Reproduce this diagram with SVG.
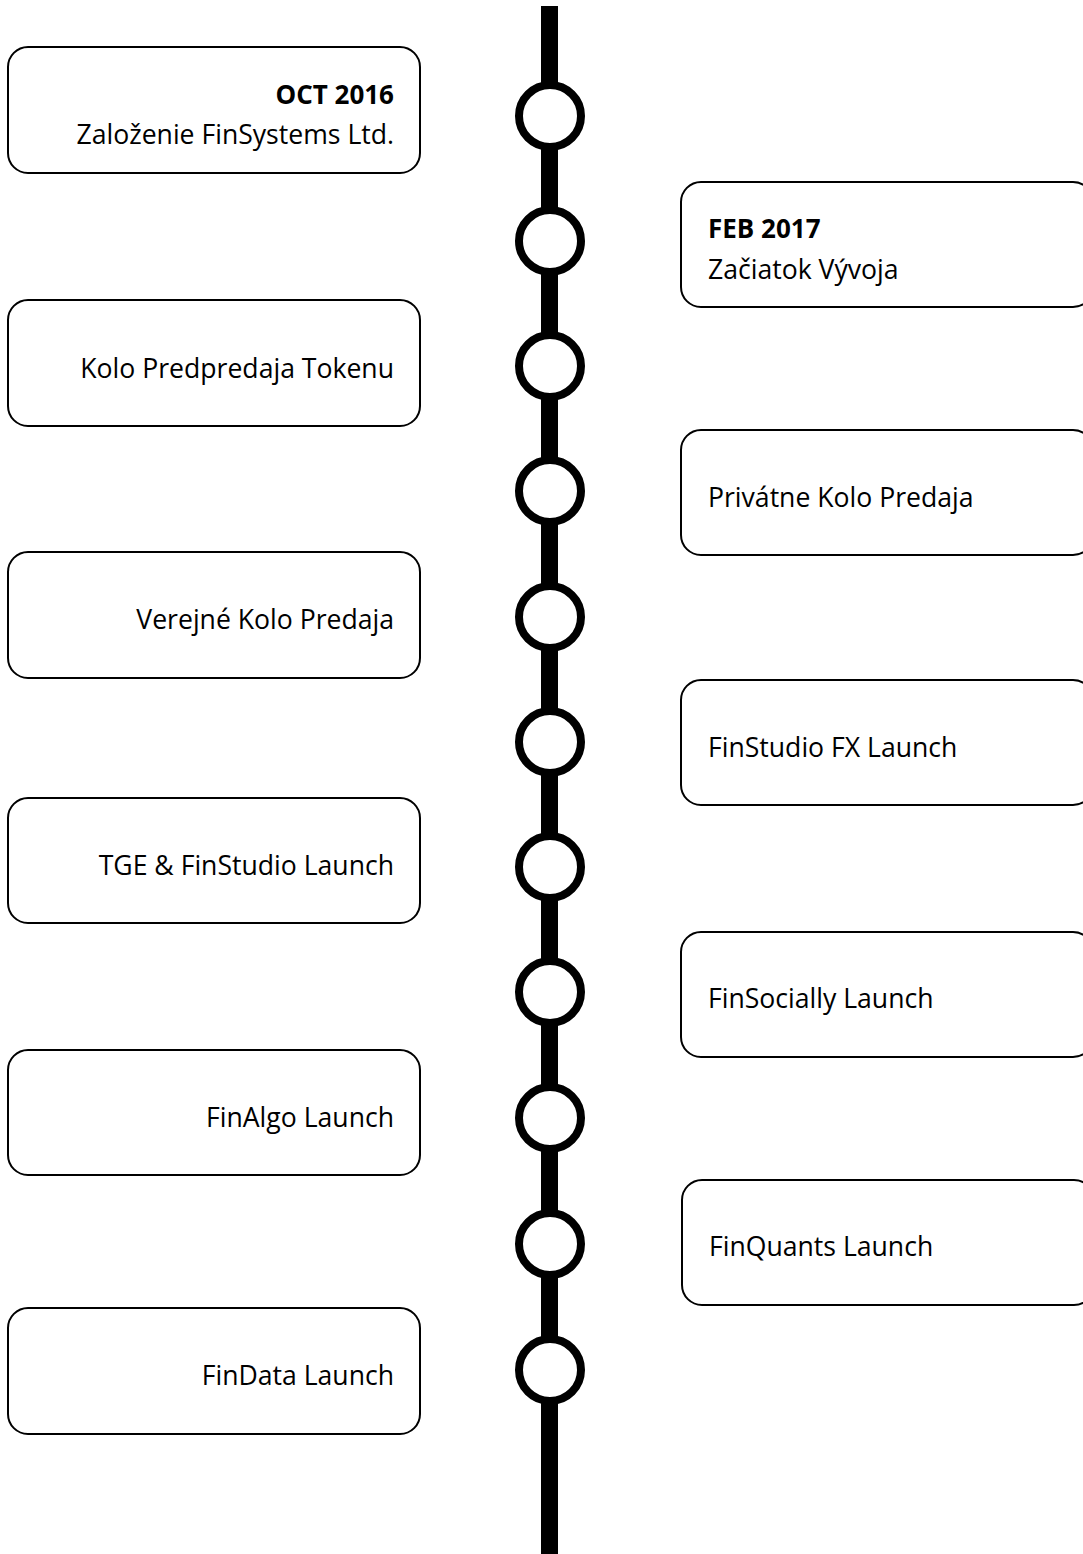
<svg xmlns="http://www.w3.org/2000/svg" width="1083" height="1554" viewBox="0 0 1083 1554">
<style>
.box{fill:#fff;stroke:#000;stroke-width:2}
.dot{fill:#fff;stroke:#000;stroke-width:8}
text{font-family:"Open Sans","Noto Sans","Liberation Sans",sans-serif;font-size:26.6px;fill:#000}
.l{text-anchor:end}
.b{font-weight:bold;font-size:26px}
</style>
<rect width="1083" height="1554" fill="#fff"/>
<g id="connectors">
<rect x="541" y="6" width="17" height="1548" fill="#000"/>
</g>
<g id="markers">
<circle class="dot" cx="550" cy="116" r="31"/>
<circle class="dot" cx="550" cy="241" r="31"/>
<circle class="dot" cx="550" cy="366" r="31"/>
<circle class="dot" cx="550" cy="491" r="31"/>
<circle class="dot" cx="550" cy="617" r="31"/>
<circle class="dot" cx="550" cy="742" r="31"/>
<circle class="dot" cx="550" cy="867" r="31"/>
<circle class="dot" cx="550" cy="992" r="31"/>
<circle class="dot" cx="550" cy="1118" r="31"/>
<circle class="dot" cx="550" cy="1244" r="31"/>
<circle class="dot" cx="550" cy="1370" r="31"/>
</g>
<g id="n1"><rect class="box" x="8" y="47" width="412" height="126" rx="20"/><text class="l b" x="394" y="104">OCT 2016</text><text class="l" x="394" y="144">Založenie FinSystems Ltd.</text></g>
<g id="n2"><rect class="box" x="681" y="182" width="412" height="125" rx="20"/><text class="b" x="708" y="238">FEB 2017</text><text x="708" y="279">Začiatok Vývoja</text></g>
<g id="n3"><rect class="box" x="8" y="300" width="412" height="126" rx="20"/><text class="l" x="394" y="378">Kolo Predpredaja Tokenu</text></g>
<g id="n4"><rect class="box" x="681" y="430" width="412" height="125" rx="20"/><text x="708" y="507">Privátne Kolo Predaja</text></g>
<g id="n5"><rect class="box" x="8" y="552" width="412" height="126" rx="20"/><text class="l" x="394" y="629">Verejné Kolo Predaja</text></g>
<g id="n6"><rect class="box" x="681" y="680" width="412" height="125" rx="20"/><text x="708" y="757">FinStudio FX Launch</text></g>
<g id="n7"><rect class="box" x="8" y="798" width="412" height="125" rx="20"/><text class="l" x="394" y="875">TGE &amp; FinStudio Launch</text></g>
<g id="n8"><rect class="box" x="681" y="932" width="412" height="125" rx="20"/><text x="708" y="1008">FinSocially Launch</text></g>
<g id="n9"><rect class="box" x="8" y="1050" width="412" height="125" rx="20"/><text class="l" x="394" y="1127">FinAlgo Launch</text></g>
<g id="n10"><rect class="box" x="682" y="1180" width="412" height="125" rx="20"/><text x="709" y="1256">FinQuants Launch</text></g>
<g id="n11"><rect class="box" x="8" y="1308" width="412" height="126" rx="20"/><text class="l" x="394" y="1385">FinData Launch</text></g>
</svg>
